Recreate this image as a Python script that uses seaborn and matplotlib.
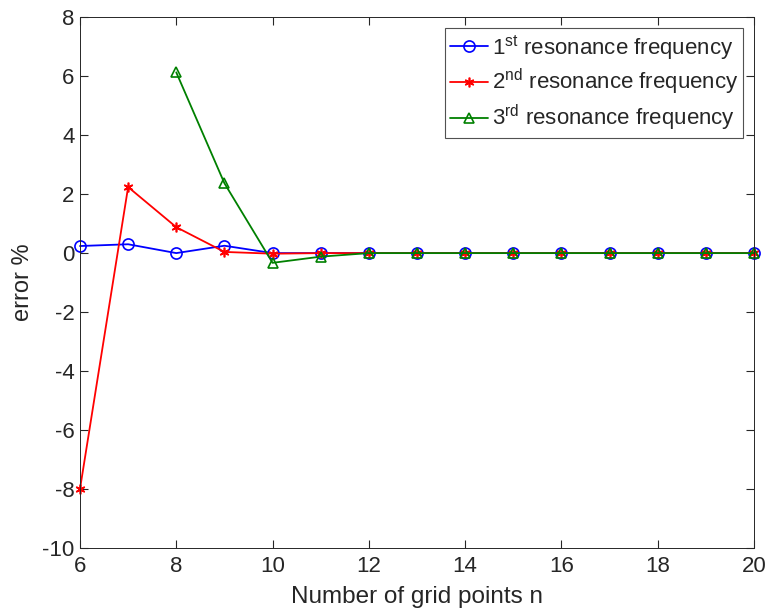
import matplotlib
matplotlib.use("Agg")
import matplotlib.pyplot as plt
import seaborn as sns
import pandas as pd

n_first = [6, 7, 8, 9, 10, 11, 12, 13, 14, 15, 16, 17, 18, 19, 20]
err_first = [0.24, 0.30, 0.0, 0.25, 0.0, 0.0, 0.0, 0.0, 0.0, 0.0, 0.0, 0.0, 0.0, 0.0, 0.0]
n_second = [6, 7, 8, 9, 10, 11, 12, 13, 14, 15, 16, 17, 18, 19, 20]
err_second = [-8.0, 2.24, 0.88, 0.04, -0.02, 0.0, 0.0, 0.0, 0.0, 0.0, 0.0, 0.0, 0.0, 0.0, 0.0]
n_third = [8, 9, 10, 11, 12, 13, 14, 15, 16, 17, 18, 19, 20]
err_third = [6.13, 2.37, -0.33, -0.12, 0.0, 0.0, 0.0, 0.0, 0.0, 0.0, 0.0, 0.0, 0.0]
labels = ["1$^{\\mathrm{st}}$ resonance frequency",
          "2$^{\\mathrm{nd}}$ resonance frequency",
          "3$^{\\mathrm{rd}}$ resonance frequency"]
x_ticks = [6, 8, 10, 12, 14, 16, 18, 20]
y_ticks = [-10, -8, -6, -4, -2, 0, 2, 4, 6, 8]

sns.set_theme(style="white")
plt.rcParams['font.family'] = ['Liberation Sans', 'DejaVu Sans']
plt.rcParams['mathtext.fontset'] = 'custom'
plt.rcParams['mathtext.rm'] = 'Liberation Sans'
plt.rcParams['mathtext.it'] = 'Liberation Sans:italic'
plt.rcParams['axes.unicode_minus'] = False

fig = plt.figure(figsize=(7.69, 6.14), dpi=100)
ax = fig.add_axes([0.104, 0.1075, 0.8765, 0.8645])

series = [
    (n_first, err_first, labels[0], 'blue', 'o', 'none', 8),
    (n_second, err_second, labels[1], 'red', (6, 2, 0), 'red', 7),
    (n_third, err_third, labels[2], (0, 0.5, 0), '^', 'none', 7),
]
for xs, ys, lab, col, mk, mfc, ms in series:
    df = pd.DataFrame({"n": xs, "err": ys})
    sns.lineplot(data=df, x="n", y="err", ax=ax, color=col, marker=mk,
                 markersize=ms, markerfacecolor=mfc, markeredgecolor=col,
                 markeredgewidth=1.2, linewidth=1.3, label=lab, clip_on=False)

ax.set_xlim(6, 20)
ax.set_ylim(-10, 8)
ax.set_xticks(x_ticks)
ax.set_yticks(y_ticks)
ax.set_xlabel("Number of grid points n", fontsize=17.5, color='#262626', labelpad=6)
ax.set_ylabel("error %", fontsize=17, color='#262626', labelpad=6)
ax.tick_params(direction='in', length=6, width=0.8, colors='#262626',
               labelsize=16, top=True, right=True, bottom=True, left=True)
ax.tick_params(axis='x', pad=6)
ax.tick_params(axis='y', pad=4)
for s in ax.spines.values():
    s.set_color('#262626')
    s.set_linewidth(0.7)
    s.set_visible(True)

leg = ax.legend(loc='upper right', fontsize=16, frameon=True, fancybox=False,
                edgecolor='#262626', handlelength=1.7, handletextpad=0.2,
                borderaxespad=0.5, labelspacing=0.25, borderpad=0.2)
leg.get_frame().set_linewidth(0.8)

fig.savefig("out.png", dpi=100)
